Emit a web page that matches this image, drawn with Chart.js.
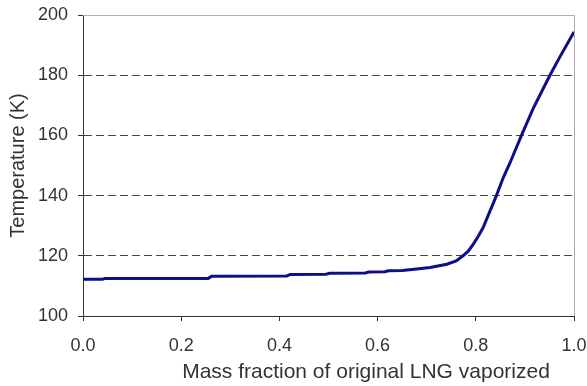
<!DOCTYPE html>
<html>
<head>
<meta charset="utf-8">
<script src="https://cdn.jsdelivr.net/npm/chart.js@4.4.1/dist/chart.umd.min.js"></script>
<style>
  html, body { margin: 0; padding: 0; background: #fff; }
  #wrap { width: 587px; height: 386px; }
</style>
</head>
<body>
<div id="wrap"><canvas id="chart" width="587" height="386"></canvas></div>
<script>
// mass fraction vaporized vs temperature (K)
const massFraction = [0.000, 0.040, 0.045, 0.255, 0.262, 0.415, 0.422, 0.495, 0.502, 0.575, 0.582,
    0.615, 0.622, 0.650, 0.680, 0.707, 0.741, 0.760, 0.774, 0.785, 0.795, 0.805, 0.815, 0.828,
    0.842, 0.856, 0.870, 0.893, 0.917, 0.951, 0.971, 0.985, 1.000];
const temperature = [112.2, 112.2, 112.5, 112.5, 113.2, 113.3, 113.8, 113.9, 114.2, 114.3, 114.6,
    114.7, 115.0, 115.1, 115.6, 116.1, 117.2, 118.3, 120.0, 121.6, 123.9, 126.5, 129.4, 134.5,
    140.0, 146.0, 151.0, 160.0, 169.0, 180.0, 186.0, 190.0, 194.4];
const xTicks = [0, 0.2, 0.4, 0.6, 0.8, 1.0];
const yTicks = [100, 120, 140, 160, 180, 200];

const points = massFraction.map((x, i) => ({x: x, y: temperature[i]}));
const textColor = '#333';
const fontFamily = '"Liberation Sans", Arial, sans-serif';

// light gray frame on top/right + x axis title
const framePlugin = {
    id: 'frame',
    afterDraw(chart) {
        const {ctx, chartArea: a} = chart;
        ctx.save();
        ctx.strokeStyle = '#b0b0b0';
        ctx.lineWidth = 1;
        ctx.beginPath();
        ctx.moveTo(a.left, a.top + 0.5);
        ctx.lineTo(a.right + 0.5, a.top + 0.5);
        ctx.lineTo(a.right + 0.5, a.bottom);
        ctx.stroke();
        ctx.fillStyle = textColor;
        ctx.font = '21px ' + fontFamily;
        ctx.textAlign = 'center';
        ctx.textBaseline = 'middle';
        ctx.fillText('Mass fraction of original LNG vaporized', 366, 372);
        ctx.restore();
    }
};

new Chart(document.getElementById('chart'), {
    type: 'line',
    data: {
        datasets: [{
            data: points,
            borderColor: '#0e0e8a',
            borderWidth: 3,
            pointRadius: 0,
            tension: 0,
            fill: false
        }]
    },
    options: {
        responsive: false,
        animation: false,
        layout: {padding: {top: 15, right: 13, left: 0, bottom: 0}},
        plugins: {legend: {display: false}, tooltip: {enabled: false}},
        scales: {
            x: {
                type: 'linear',
                min: 0, max: 1,
                afterFit: s => { s.height = 70; s.paddingLeft = 0; s.paddingRight = 0; },
                afterBuildTicks: s => { s.ticks = xTicks.map(v => ({value: v})); },
                grid: {drawOnChartArea: false, drawTicks: true, tickLength: 5, tickColor: '#333'},
                border: {color: '#333', width: 1},
                ticks: {
                    color: textColor, padding: 14,
                    font: {family: fontFamily, size: 18},
                    callback: v => v.toFixed(1)
                }
            },
            y: {
                min: 100, max: 200,
                afterFit: s => { s.width = 83; s.paddingTop = 0; s.paddingBottom = 0; },
                afterBuildTicks: s => { s.ticks = yTicks.map(v => ({value: v})); },
                grid: {
                    color: c => (c.tick && (c.tick.value === 100 || c.tick.value === 200)) ? 'rgba(0,0,0,0)' : '#444',
                    lineWidth: 1,
                    tickLength: 5, tickColor: '#333', tickBorderDash: []
                },
                border: {color: '#333', width: 1, dash: [8, 4]},
                ticks: {
                    color: textColor, padding: 10,
                    font: {family: fontFamily, size: 18}
                },
                title: {
                    display: true, text: 'Temperature (K)', color: textColor,
                    font: {family: fontFamily, size: 20},
                    padding: {top: 6, bottom: 0}
                }
            }
        }
    },
    plugins: [framePlugin]
});
</script>
</body>
</html>
